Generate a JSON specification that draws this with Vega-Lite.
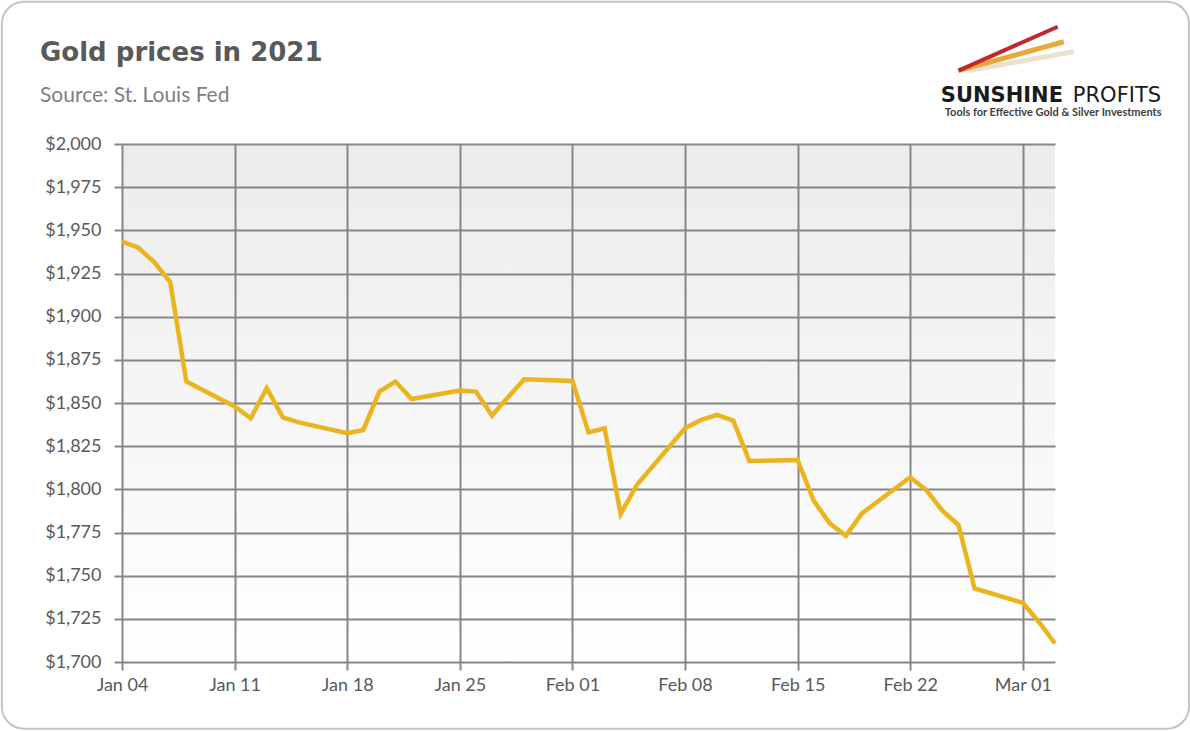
{
  "$schema": "https://vega.github.io/schema/vega-lite/v6.json",
  "width": 933,
  "height": 518,
  "autosize": {"type": "none"},
  "padding": {"left": 122, "top": 144, "right": 135, "bottom": 69},
  "background": "#ffffff",
  "title": {
    "text": "Gold prices in 2021",
    "subtitle": "Source: St. Louis Fed",
    "anchor": "start",
    "frame": "group",
    "dx": -82,
    "dy": 105,
    "offset": 0,
    "font": "DejaVu Sans",
    "fontSize": 26,
    "fontWeight": "bold",
    "color": "#595959",
    "subtitleFont": "Lato",
    "subtitleFontSize": 21,
    "subtitleColor": "#7f7f7f",
    "subtitlePadding": 19
  },
  "config": {
    "view": {
      "stroke": null,
      "fill": {
        "gradient": "linear",
        "x1": 0, "y1": 0, "x2": 0, "y2": 1,
        "stops": [
          {"offset": 0, "color": "#ececec"},
          {"offset": 1, "color": "#ffffff"}
        ]
      }
    },
    "axis": {
      "labelFont": "Lato",
      "labelFontSize": 18,
      "labelColor": "#595959",
      "gridColor": "#868686",
      "gridWidth": 2,
      "gridOpacity": 1,
      "tickColor": "#868686",
      "tickWidth": 2,
      "tickSize": 8,
      "domain": false,
      "labelFlush": false,
      "title": null
    }
  },
  "layer": [
    {
      "data": {
        "values": [
          {"date": "2021-01-04", "price": 1943.5},
          {"date": "2021-01-05", "price": 1940.1},
          {"date": "2021-01-06", "price": 1931.6},
          {"date": "2021-01-07", "price": 1920.0},
          {"date": "2021-01-08", "price": 1862.4},
          {"date": "2021-01-11", "price": 1848.0},
          {"date": "2021-01-12", "price": 1841.2},
          {"date": "2021-01-13", "price": 1858.6},
          {"date": "2021-01-14", "price": 1841.7},
          {"date": "2021-01-15", "price": 1838.8},
          {"date": "2021-01-18", "price": 1832.5},
          {"date": "2021-01-19", "price": 1834.4},
          {"date": "2021-01-20", "price": 1856.6},
          {"date": "2021-01-21", "price": 1862.4},
          {"date": "2021-01-22", "price": 1852.3},
          {"date": "2021-01-25", "price": 1857.2},
          {"date": "2021-01-26", "price": 1856.6},
          {"date": "2021-01-27", "price": 1842.7},
          {"date": "2021-01-28", "price": 1853.3},
          {"date": "2021-01-29", "price": 1863.8},
          {"date": "2021-02-01", "price": 1862.8},
          {"date": "2021-02-02", "price": 1833.0},
          {"date": "2021-02-03", "price": 1835.4},
          {"date": "2021-02-04", "price": 1785.7},
          {"date": "2021-02-05", "price": 1802.5},
          {"date": "2021-02-08", "price": 1835.4},
          {"date": "2021-02-09", "price": 1840.2},
          {"date": "2021-02-10", "price": 1843.1},
          {"date": "2021-02-11", "price": 1839.8},
          {"date": "2021-02-12", "price": 1816.4},
          {"date": "2021-02-15", "price": 1817.0},
          {"date": "2021-02-16", "price": 1793.4},
          {"date": "2021-02-17", "price": 1780.3},
          {"date": "2021-02-18", "price": 1773.1},
          {"date": "2021-02-19", "price": 1786.1},
          {"date": "2021-02-22", "price": 1807.0},
          {"date": "2021-02-23", "price": 1799.6},
          {"date": "2021-02-24", "price": 1787.6},
          {"date": "2021-02-25", "price": 1779.3},
          {"date": "2021-02-26", "price": 1742.6},
          {"date": "2021-03-01", "price": 1734.3},
          {"date": "2021-03-02", "price": 1723.2},
          {"date": "2021-03-03", "price": 1710.7}
        ]
      },
      "mark": {"type": "line", "color": "#ebb41f", "strokeWidth": 4.5, "strokeJoin": "miter"},
      "encoding": {
        "x": {
          "field": "date",
          "type": "temporal",
          "scale": {
            "type": "utc",
            "domain": [
              {"year": 2021, "month": 1, "date": 4, "utc": true},
              {"year": 2021, "month": 3, "date": 3, "utc": true}
            ],
            "nice": false
          },
          "axis": {
            "format": "%b %d",
            "labelPadding": 6,
            "values": [
              {"year": 2021, "month": 1, "date": 4, "utc": true},
              {"year": 2021, "month": 1, "date": 11, "utc": true},
              {"year": 2021, "month": 1, "date": 18, "utc": true},
              {"year": 2021, "month": 1, "date": 25, "utc": true},
              {"year": 2021, "month": 2, "date": 1, "utc": true},
              {"year": 2021, "month": 2, "date": 8, "utc": true},
              {"year": 2021, "month": 2, "date": 15, "utc": true},
              {"year": 2021, "month": 2, "date": 22, "utc": true},
              {"year": 2021, "month": 3, "date": 1, "utc": true}
            ]
          }
        },
        "y": {
          "field": "price",
          "type": "quantitative",
          "scale": {"domain": [1700, 2000], "nice": false, "zero": false},
          "axis": {
            "format": "$,.0f",
            "labelPadding": 13,
            "values": [1700, 1725, 1750, 1775, 1800, 1825, 1850, 1875, 1900, 1925, 1950, 1975, 2000]
          }
        }
      }
    },
    {
      "data": {"values": [{}]},
      "mark": {"type": "rect", "fill": null, "stroke": "#c4c4c4", "strokeWidth": 2, "cornerRadius": 22, "clip": false},
      "encoding": {
        "x": {"datum": {"year": 2020, "month": 12, "date": 27, "hours": 12, "minutes": 48, "utc": true}, "type": "temporal"},
        "x2": {"datum": {"year": 2021, "month": 3, "date": 11, "hours": 7, "minutes": 55, "utc": true}},
        "y": {"datum": 2082.4, "type": "quantitative"},
        "y2": {"datum": 1661.4}
      }
    },
    {
      "data": {"values": [{}]},
      "mark": {"type": "rule", "stroke": "#e6dcc6", "strokeWidth": 5, "clip": false, "opacity": 0.85},
      "encoding": {
        "x": {"datum": {"year": 2021, "month": 2, "date": 25, "hours": 16, "utc": true}, "type": "temporal"},
        "x2": {"datum": {"year": 2021, "month": 3, "date": 4, "hours": 4, "utc": true}},
        "y": {"datum": 2042.5, "type": "quantitative"},
        "y2": {"datum": 2053.5}
      }
    },
    {
      "data": {"values": [{}]},
      "mark": {"type": "rule", "stroke": "#e6a93a", "strokeWidth": 5, "clip": false},
      "encoding": {
        "x": {"datum": {"year": 2021, "month": 2, "date": 25, "hours": 0, "utc": true}, "type": "temporal"},
        "x2": {"datum": {"year": 2021, "month": 3, "date": 3, "hours": 13, "utc": true}},
        "y": {"datum": 2042.5, "type": "quantitative"},
        "y2": {"datum": 2059.2}
      }
    },
    {
      "data": {"values": [{}]},
      "mark": {"type": "rule", "stroke": "#c1272d", "strokeWidth": 4, "clip": false},
      "encoding": {
        "x": {"datum": {"year": 2021, "month": 2, "date": 25, "hours": 0, "utc": true}, "type": "temporal"},
        "x2": {"datum": {"year": 2021, "month": 3, "date": 3, "hours": 4, "utc": true}},
        "y": {"datum": 2042.5, "type": "quantitative"},
        "y2": {"datum": 2067.9}
      }
    },
    {
      "data": {"values": [{}]},
      "mark": {"type": "text", "text": "SUNSHINE", "font": "DejaVu Sans", "fontWeight": "bold", "fontSize": 21, "align": "left", "baseline": "alphabetic", "color": "#1a1a1a", "clip": false},
      "encoding": {
        "x": {"datum": {"year": 2021, "month": 2, "date": 23, "hours": 21, "minutes": 36, "utc": true}, "type": "temporal"},
        "y": {"datum": 2024.5, "type": "quantitative"}
      }
    },
    {
      "data": {"values": [{}]},
      "mark": {"type": "text", "text": "PROFITS", "font": "DejaVu Sans", "fontWeight": "normal", "fontSize": 21, "align": "left", "baseline": "alphabetic", "color": "#1a1a1a", "clip": false},
      "encoding": {
        "x": {"datum": {"year": 2021, "month": 3, "date": 4, "hours": 2, "minutes": 38, "utc": true}, "type": "temporal"},
        "y": {"datum": 2024.5, "type": "quantitative"}
      }
    },
    {
      "data": {"values": [{}]},
      "mark": {"type": "text", "text": "Tools for Effective Gold & Silver Investments", "font": "Lato", "fontWeight": "bold", "fontSize": 11, "align": "left", "baseline": "alphabetic", "color": "#404040", "clip": false},
      "encoding": {
        "x": {"datum": {"year": 2021, "month": 2, "date": 24, "hours": 3, "minutes": 36, "utc": true}, "type": "temporal"},
        "y": {"datum": 2016.4, "type": "quantitative"}
      }
    }
  ]
}
